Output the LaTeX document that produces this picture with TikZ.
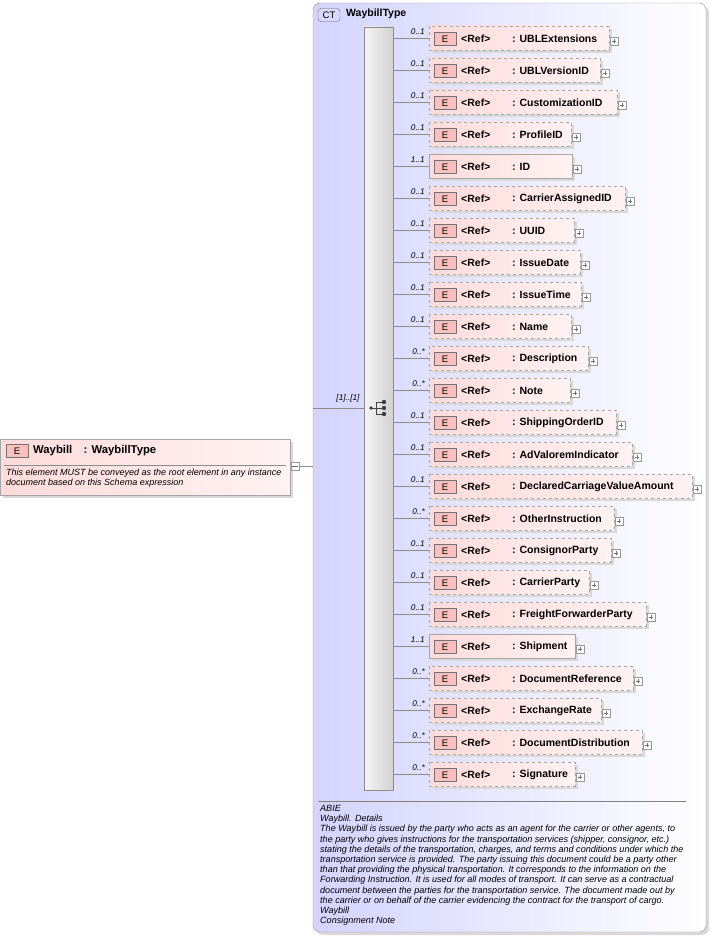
\documentclass[tikz,border=0pt]{standalone}
\usepackage{fontspec}
\setmainfont{Liberation Sans}
\begin{document}
\begin{tikzpicture}[x=1pt,y=-1pt,
  ebox/.style={draw=black!55,fill=red!25,minimum width=22pt,minimum height=13pt,inner sep=0pt,font=\fontsize{9.5}{10}\selectfont},
  elem/.style={draw=black!35,left color=red!14,right color=red!5,inner sep=0pt},
  opt/.style={dashed},
  plus/.style={draw=black!40,fill=white,minimum size=8pt,inner sep=0pt},
  mult/.style={font=\itshape\fontsize{8.3}{9}\selectfont,anchor=south east,inner sep=0pt},
  nm/.style={font=\bfseries\fontsize{10.5}{12}\selectfont,anchor=west,inner sep=0pt},
  conn/.style={draw=black!45,line width=0.6pt},
  desc/.style={font=\itshape\fontsize{9.05}{10.2}\selectfont,anchor=north west,inner sep=0pt,align=left}]
\useasboundingbox (0,0) rectangle (710,936);
% complex type box
\fill[black!15,rounded corners=7] (316,6) rectangle (709,935);
\shade[left color=blue!17,right color=white,draw=black!40,rounded corners=7] (313,3) rectangle (706,932);
\node[draw=black!60,fill=blue!15,rounded corners=3,minimum width=22pt,minimum height=13pt,inner sep=0pt,font=\fontsize{9.5}{10}\selectfont] (ct) at (329,15) {CT};
\node[nm] (ctn) at (346,14) {WaybillType};
% left element
\fill[black!15] (3,442) rectangle (293,498);
\draw[elem] (0,439) rectangle (290,495);
\node[ebox] (e0) at (17,451) {E};
\node[nm,font=\bfseries\fontsize{11.3}{12}\selectfont] (wn) at (33,451) {Waybill\quad: WaybillType};
\draw[black!45] (4,465) -- (286,465);
\node[desc,font=\itshape\fontsize{9}{10}\selectfont] (wd) at (6,468.5) {This element MUST be conveyed as the root element in any instance\\document based on this Schema expression};
\node[plus] (wp) at (295,466) {};
\draw[black!60] (292,466) -- (298,466);
\draw[conn] (wp.east) -- (313,466);
% sequence
\shade[left color=black!4,right color=black!18,draw=black!45] (364,27) rectangle (393,790);
\coordinate (seq) at (364,408);
\draw[conn] (313,408) -- (seq);
\node[font=\itshape\fontsize{8.3}{9}\selectfont,anchor=south] (sl) at (348,406) {[1]..[1]};
% sequence icon
\begin{scope}[shift={(379,408)},black!75,line width=0.9pt]
\draw (-8,0) -- (-3,0); \draw (-3,-6) -- (-3,6);
\draw (-3,-6) -- (4,-6); \draw (-3,0) -- (4,0); \draw (-3,6) -- (4,6);
\fill (-8,0) circle (1.8); \fill (5,-6) circle (2.2); \fill (5,0) circle (2.2); \fill (5,6) circle (2.2);
\end{scope}
\draw[black!50] (318,801) -- (686,801);
\node[desc] (doc) at (320,805) {ABIE\\Waybill. Details\\The Waybill is issued by the party who acts as an agent for the carrier or other agents, to\\the party who gives instructions for the transportation services (shipper, consignor, etc.)\\stating the details of the transportation, charges, and terms and conditions under which the\\transportation service is provided. The party issuing this document could be a party other\\than that providing the physical transportation. It corresponds to the information on the\\Forwarding Instruction. It is used for all modes of transport. It can serve as a contractual\\document between the parties for the transportation service. The document made out by\\the carrier or on behalf of the carrier evidencing the contract for the transport of cargo.\\Waybill\\Consignment Note};
% children
\foreach [count=\i from 0] \n/\m/\w/\s in {
UBLExtensions/0..1/609/opt, UBLVersionID/0..1/600/opt, CustomizationID/0..1/617/opt,
ProfileID/0..1/571/opt, ID/1..1/572/, CarrierAssignedID/0..1/625/opt, UUID/0..1/574/opt,
IssueDate/0..1/580/opt, IssueTime/0..1/581/opt, Name/0..1/571/opt, Description/0..*/588/opt,
Note/0..*/570/opt, ShippingOrderID/0..1/616/opt, AdValoremIndicator/0..1/632/opt,
DeclaredCarriageValueAmount/0..1/692/opt, OtherInstruction/0..*/614/opt, ConsignorParty/0..1/611/opt,
CarrierParty/0..1/589/opt, FreightForwarderParty/0..1/646/opt, Shipment/1..1/575/,
DocumentReference/0..*/633/opt, ExchangeRate/0..*/601/opt, DocumentDistribution/0..*/642/opt,
Signature/0..*/575/opt} {
  \pgfmathsetmacro{\c}{38+32*\i}
  \fill[black!15] (432,\c-9) rectangle (\w+3,\c+15);
  \draw[elem,\s] (429,\c-12) rectangle (\w,\c+12);
  \coordinate (c\i) at (429,\c);
  \draw[conn] (393,\c) -- (c\i);
  \node[mult] (m\i) at (425,\c-3) {\m};
  \node[ebox] (e\i) at (445,\c+1) {E};
  \node[nm] (r\i) at (461,\c+0.8) {<Ref>};
  \node[nm] (n\i) at (512,\c+0.8) {: \n};
  \node[plus] (p\i) at (\w+5,\c+3) {};
  \draw[black!55] (\w+3,\c+3) -- (\w+7,\c+3) (\w+5,\c+1) -- (\w+5,\c+5);
}
\end{tikzpicture}
\end{document}
